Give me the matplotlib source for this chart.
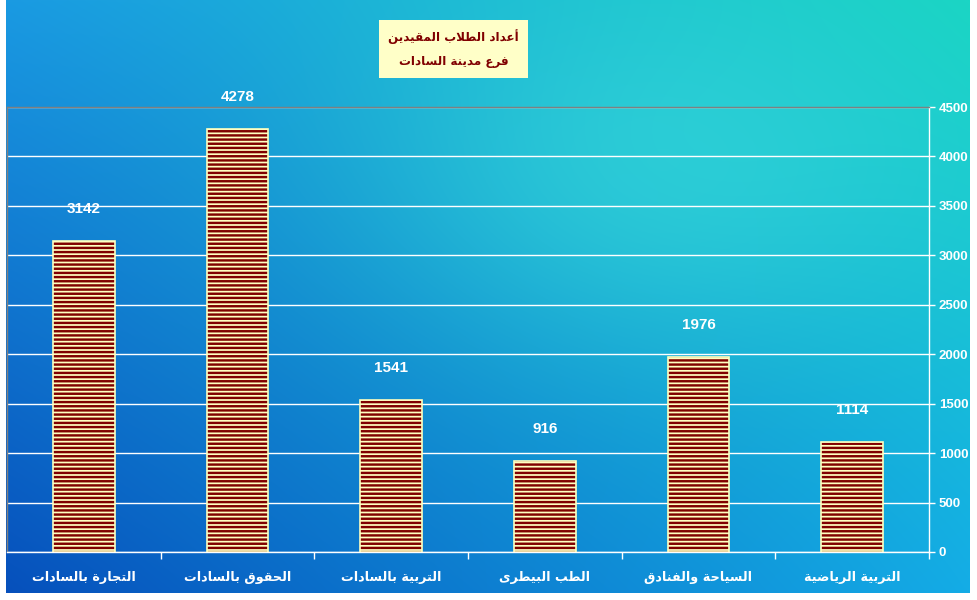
import numpy as np
import matplotlib
matplotlib.use("Agg")
import matplotlib.pyplot as plt
from matplotlib.patches import Rectangle

# ---------------- data ----------------
categories = ["التجارة بالسادات", "الحقوق بالسادات", "التربية بالسادات",
              "الطب البيطرى", "السياحة والفنادق", "التربية الرياضية"]
values = [3142, 4278, 1541, 916, 1976, 1114]
title_lines = ["أعداد الطلاب المقيدين", "فرع مدينة السادات"]
yticks = [0, 500, 1000, 1500, 2000, 2500, 3000, 3500, 4000, 4500]

# ------------- minimal Arabic shaping -------------
FORMS = {
    '\u0627': ('\uFE8D', '\uFE8E', None, None),
    '\u0623': ('\uFE83', '\uFE84', None, None),
    '\u0628': ('\uFE8F', '\uFE90', '\uFE91', '\uFE92'),
    '\u0629': ('\uFE93', '\uFE94', None, None),
    '\u062A': ('\uFE95', '\uFE96', '\uFE97', '\uFE98'),
    '\u062C': ('\uFE9D', '\uFE9E', '\uFE9F', '\uFEA0'),
    '\u062D': ('\uFEA1', '\uFEA2', '\uFEA3', '\uFEA4'),
    '\u062F': ('\uFEA9', '\uFEAA', None, None),
    '\u0631': ('\uFEAD', '\uFEAE', None, None),
    '\u0633': ('\uFEB1', '\uFEB2', '\uFEB3', '\uFEB4'),
    '\u0636': ('\uFEBD', '\uFEBE', '\uFEBF', '\uFEC0'),
    '\u0637': ('\uFEC1', '\uFEC2', '\uFEC3', '\uFEC4'),
    '\u0639': ('\uFEC9', '\uFECA', '\uFECB', '\uFECC'),
    '\u0641': ('\uFED1', '\uFED2', '\uFED3', '\uFED4'),
    '\u0642': ('\uFED5', '\uFED6', '\uFED7', '\uFED8'),
    '\u0644': ('\uFEDD', '\uFEDE', '\uFEDF', '\uFEE0'),
    '\u0645': ('\uFEE1', '\uFEE2', '\uFEE3', '\uFEE4'),
    '\u0646': ('\uFEE5', '\uFEE6', '\uFEE7', '\uFEE8'),
    '\u0648': ('\uFEED', '\uFEEE', None, None),
    '\u0649': ('\uFEEF', '\uFEF0', None, None),
    '\u064A': ('\uFEF1', '\uFEF2', '\uFEF3', '\uFEF4'),
}
LAMALEF = {'\u0627': ('\uFEFB', '\uFEFC'), '\u0623': ('\uFEF7', '\uFEF8')}


def shape(text):
    chars = list(text)
    n = len(chars)
    res = []
    i = 0
    while i < n:
        c = chars[i]
        if c not in FORMS:
            res.append(c)
            i += 1
            continue
        prev = chars[i - 1] if i > 0 else None
        prev_joins = prev in FORMS and FORMS[prev][2] is not None
        if c == '\u0644' and i + 1 < n and chars[i + 1] in LAMALEF:
            lig = LAMALEF[chars[i + 1]]
            res.append(lig[1] if prev_joins else lig[0])
            i += 2
            continue
        nxt = chars[i + 1] if i + 1 < n else None
        iso, fin, ini, med = FORMS[c]
        can_next = ini is not None and nxt in FORMS
        if prev_joins and can_next:
            f = med
        elif prev_joins:
            f = fin
        elif can_next:
            f = ini
        else:
            f = iso
        res.append(f)
        i += 1
    return ''.join(reversed(res))


# ---------------- figure ----------------
W, H = 977, 600
fig = plt.figure(figsize=(W / 100, H / 100), dpi=100)
fig.patch.set_facecolor('white')

# gradient background
bx0, bx1, by0, by1 = 6, 970, 0, 593
bg = fig.add_axes([bx0 / W, 1 - by1 / H, (bx1 - bx0) / W, (by1 - by0) / H])
bg.set_axis_off()
gh, gw = 300, 490
yy, xx = np.mgrid[0:1:gh * 1j, 0:1:gw * 1j]
tl = np.array([0x1A, 0x9A, 0xE2]) / 255
tr = np.array([0x18, 0xD4, 0xC2]) / 255
bl = np.array([0x06, 0x50, 0xBC]) / 255
br = np.array([0x14, 0xAC, 0xE6]) / 255
img = ((1 - xx)[..., None] * (1 - yy)[..., None] * tl + xx[..., None] * (1 - yy)[..., None] * tr
       + (1 - xx)[..., None] * yy[..., None] * bl + xx[..., None] * yy[..., None] * br)
hl = np.array([0x40, 0xE4, 0xDE]) / 255
g = np.exp(-(((xx - 0.68) / 0.30) ** 2 + ((yy - 0.28) / 0.32) ** 2))[..., None] * 0.5
img = img * (1 - g) + hl * g
bg.imshow(np.clip(img, 0, 1), aspect='auto', extent=[0, 1, 1, 0], interpolation='bilinear')
bg.set_xlim(0, 1)
bg.set_ylim(1, 0)

# main axes
px0, px1, py0, py1 = 7, 929, 107, 552
ax = fig.add_axes([px0 / W, 1 - py1 / H, (px1 - px0) / W, (py1 - py0) / H])
ax.patch.set_alpha(0)

x = np.arange(len(categories))
ax.set_xlim(-0.5, len(categories) - 0.5)
ax.set_ylim(0, 4500)

plt.rcParams['hatch.linewidth'] = 1.75
ax.bar(x, values, width=0.40, color='#FFFFC0', edgecolor='#800000', hatch='----',
       linewidth=0, zorder=3)
ax.bar(x, values, width=0.40, color='none', edgecolor='#FFFFC0', linewidth=1.2, zorder=4)

# grid
ax.set_yticks(yticks)
ax.yaxis.grid(True, color='white', linewidth=1.0, zorder=1)
ax.set_axisbelow(True)

# spines
ax.spines['top'].set_color('#808080')
ax.spines['left'].set_color('#808080')
ax.spines['right'].set_color('white')
ax.spines['bottom'].set_color('white')
for s in ax.spines.values():
    s.set_linewidth(1.0)

# y ticks on right
ax.yaxis.tick_right()
ax.tick_params(axis='y', which='major', direction='out', length=4, width=1, color='white',
               labelcolor='white', pad=3, left=False)
for lab in ax.get_yticklabels():
    lab.set_fontfamily('Liberation Sans')
    lab.set_fontweight('bold')
    lab.set_fontsize(9.5)

# x ticks: boundaries as minor ticks, labels on majors
ax.set_xticks(x)
ax.set_xticks(np.arange(0.5, len(categories), 1.0), minor=True)
ax.tick_params(axis='x', which='major', length=0, pad=14)
ax.tick_params(axis='x', which='minor', direction='out', length=5, width=1, color='white')
ax.set_xticklabels([shape(c) for c in categories], color='white', fontsize=9.2,
                   fontweight='bold', fontfamily='DejaVu Sans')

# value labels
for xi, v in zip(x, values):
    ax.annotate(str(v), (xi, v), xytext=(0, 23), textcoords='offset points',
                ha='center', va='center', color='white', fontsize=11,
                fontweight='bold', fontfamily='Liberation Sans', zorder=5)

# title box
tx0, tx1, ty0, ty1 = 379, 528, 20, 78
fig.patches.append(Rectangle((tx0 / W, 1 - ty1 / H), (tx1 - tx0) / W, (ty1 - ty0) / H,
                             transform=fig.transFigure, facecolor='#FFFFC8',
                             edgecolor='none', zorder=10))
fig.text((tx0 + tx1) / 2 / W, 1 - 37 / H, shape(title_lines[0]), ha='center', va='center',
         color='#800000', fontsize=8.6, fontweight='bold', fontfamily='DejaVu Sans', zorder=11)
fig.text((tx0 + tx1) / 2 / W, 1 - 61 / H, shape(title_lines[1]), ha='center', va='center',
         color='#800000', fontsize=8.6, fontweight='bold', fontfamily='DejaVu Sans', zorder=11)

fig.savefig('out.png', dpi=100, facecolor='white')
